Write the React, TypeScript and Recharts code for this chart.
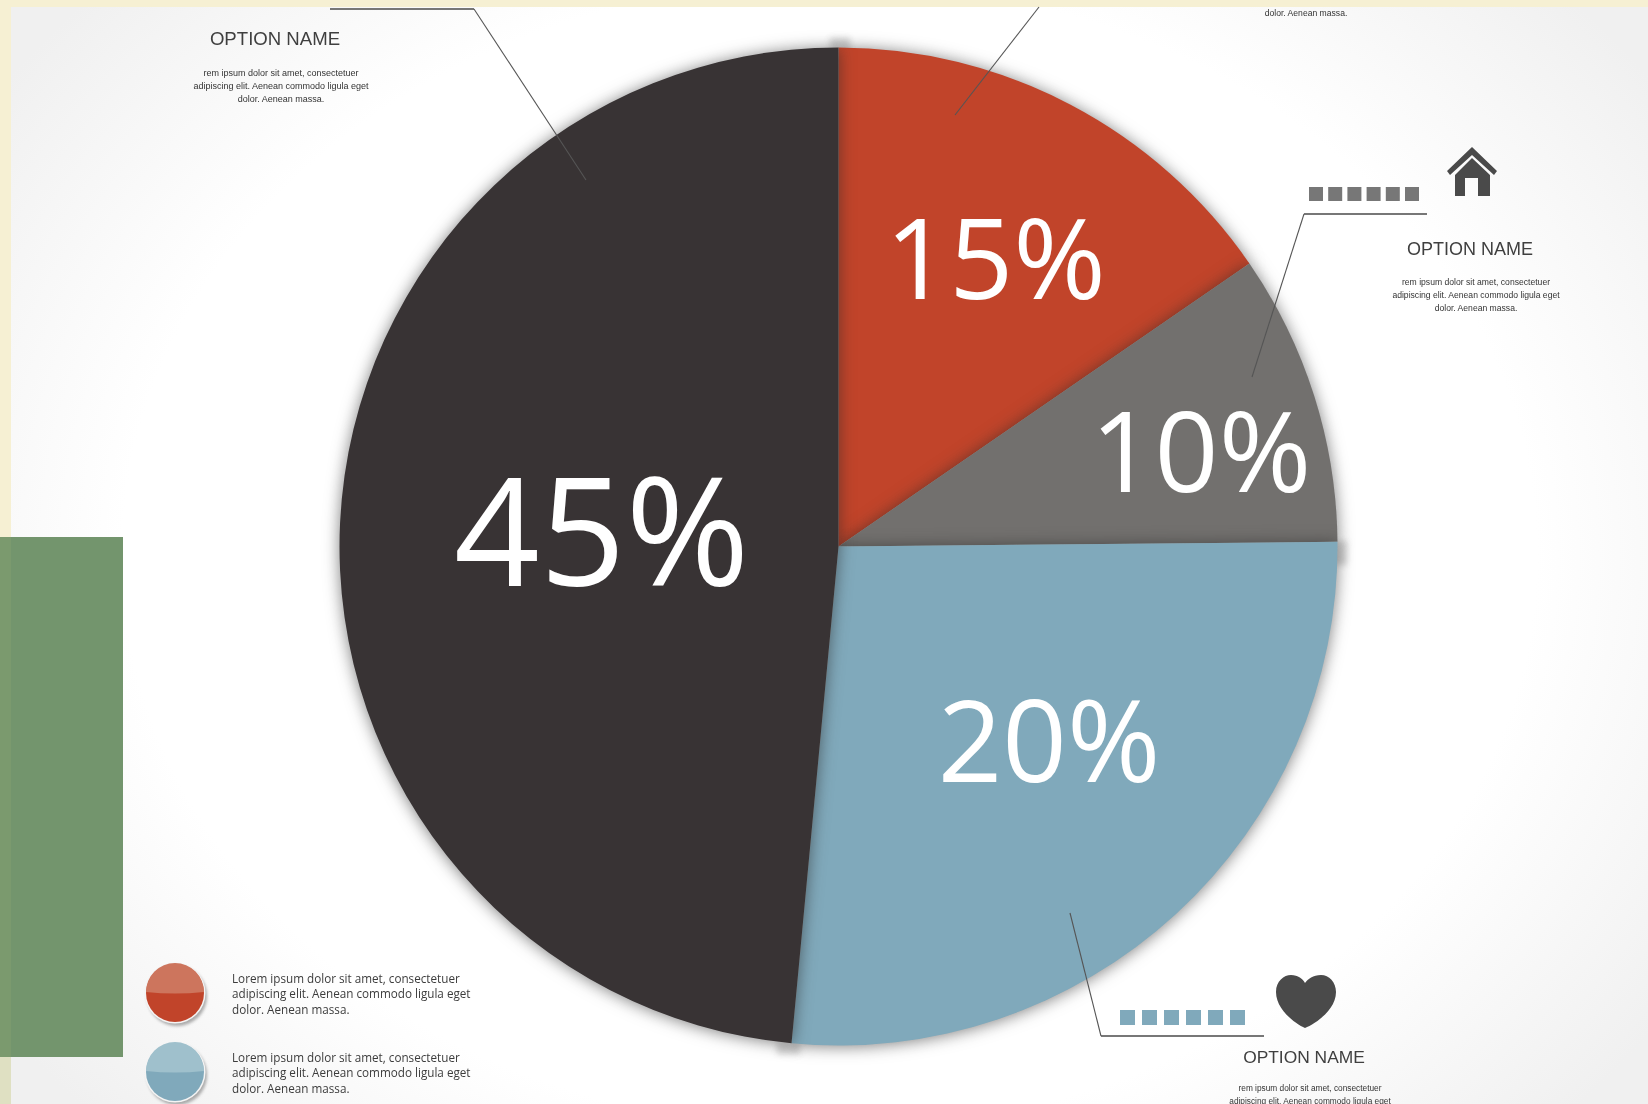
import React from 'react';
import { PieChart, Pie, Cell } from 'recharts';

const sliceNames = ['Red', 'Grey', 'Blue', 'Black'];
const sliceValues = [15.4, 9.45, 26.65, 48.5];
const sliceLabels = ['15%', '10%', '20%', '45%'];
const sliceColors = ['#c1442a', '#72706e', '#80a9bb', '#383334'];

const chartData = sliceNames.map((name, i) => ({ name, value: sliceValues[i], label: sliceLabels[i] }));

const labelSizes = [112, 112, 113, 150];
const labelRadius = [329, 378, 289, 240];
const labelNudgeX = [4, 2, 15, 3];
const labelNudgeY = [0, 16, -21, -7];

const RAD = Math.PI / 180;
const LOREM = ['Lorem ipsum dolor sit amet, consectetuer', 'adipiscing elit. Aenean commodo ligula eget', 'dolor. Aenean massa.'];
const SMALL = ['rem ipsum dolor sit amet, consectetuer', 'adipiscing elit. Aenean commodo ligula eget', 'dolor. Aenean massa.'];

function renderLabel(props: any) {
  const { cx, cy, midAngle, index, payload } = props;
  const r = labelRadius[index];
  const x = cx + r * Math.cos(midAngle * RAD) + labelNudgeX[index];
  const y = cy - r * Math.sin(midAngle * RAD) + labelNudgeY[index];
  return (
    <text x={x} y={y} fill="#ffffff" textAnchor="middle" dominantBaseline="central"
      style={{ fontFamily: '"Open Sans", sans-serif', fontWeight: 400, fontSize: labelSizes[index] }}>
      {payload.label}
    </text>
  );
}

function Caption({ x, y, lines, size }: { x: number; y: number; lines: string[]; size: number }) {
  return (
    <g fill="#333" textAnchor="middle" fontFamily='"Liberation Sans", sans-serif'>
      {lines.map((l, i) => (
        <text key={i} x={x} y={y + i * 13} fontSize={size}>{l}</text>
      ))}
    </g>
  );
}

function Squares({ x, y, color, size, pitch }: { x: number; y: number; color: string; size: number; pitch: number }) {
  return (
    <g fill={color}>
      {[0, 1, 2, 3, 4, 5].map(i => <rect key={i} x={x + i * pitch} y={y} width={size} height={size} />)}
    </g>
  );
}

function Badge({ y, top, bottom }: { y: number; top: string; bottom: string }) {
  const cx = 175, r = 29;
  return (
    <g>
      <circle cx={cx + 2} cy={y + 3} r={r + 1} fill="#777" opacity={0.6} style={{ filter: 'blur(1.5px)' }} />
      <circle cx={cx} cy={y} r={r + 1.5} fill="#f4f4f4" />
      <circle cx={cx} cy={y} r={r} fill={bottom} />
      <path d={`M ${cx - r} ${y - 1} A ${r} ${r} 0 0 1 ${cx + r} ${y - 1} Q ${cx} ${y + 2} ${cx - r} ${y - 1} Z`} fill={top} />
    </g>
  );
}

function Lorem({ x, y }: { x: number; y: number }) {
  return (
    <g fill="#3c3c3c" fontFamily='"Open Sans", sans-serif' fontSize={11.7}>
      {LOREM.map((l, i) => <text key={i} x={x} y={y + i * 15.4}>{l}</text>)}
    </g>
  );
}

export default function App() {
  return (
    <div style={{ position: 'absolute', left: 0, top: 0, width: 1648, height: 1104, overflow: 'hidden', background: '#f6f0d3' }}>
      <div style={{
        position: 'absolute', left: 11, top: 7, width: 1637, height: 1097,
        background: 'radial-gradient(ellipse 1010px 820px at 50% 50%, #ffffff 70%, #f0f0f0 100%)',
      }} />
      <svg width={1648} height={1104} style={{ position: 'absolute', left: 0, top: 0, filter: 'blur(0.5px)' }}>
        <rect x={0} y={1057} width={11} height={47} fill="#dfe0c2" />
        <rect x={0} y={537} width={123} height={520} fill="#73956d" />
        <rect x={0} y={537} width={11} height={520} fill="#7b9a6e" />
        <g fill="#3f3f3f" fontFamily='"Liberation Sans", sans-serif' textAnchor="middle">
          <text x={275} y={45} fontSize={18.6}>OPTION NAME</text>
          <text x={1470} y={255} fontSize={18}>OPTION NAME</text>
          <text x={1304} y={1063} fontSize={17.4}>OPTION NAME</text>
        </g>
        <Caption x={281} y={76} lines={SMALL} size={9} />
        <Caption x={1476} y={285} lines={SMALL} size={8.6} />
        <Caption x={1310} y={1091} lines={SMALL} size={8.3} />
        <text x={1306} y={16} fontSize={8.6} fill="#333" textAnchor="middle" fontFamily='"Liberation Sans", sans-serif'>dolor. Aenean massa.</text>
        <Squares x={1309} y={187} color="#777" size={14} pitch={19.2} />
        <Squares x={1120} y={1010} color="#80a9bb" size={15} pitch={22} />
        <path d="M 1472 147 L 1497 171 L 1494 175 L 1472 155 L 1450 175 L 1447 171 Z M 1455 175 L 1472 158 L 1490 175 V 196 H 1478 V 178 H 1465 V 196 H 1455 Z" fill="#4a4a4a" />
        <path d="M 1305 1028 C 1296 1024 1276 1010 1276 992 C 1276 981 1284 975 1291 975 C 1298 975 1303 979 1305 983 C 1308 979 1313 975 1321 975 C 1329 975 1336 982 1336 992 C 1336 1010 1315 1024 1305 1028 Z" fill="#4a4a4a" />
        <Badge y={993} top="#cd755d" bottom="#c1442a" />
        <Badge y={1072} top="#9fc0cc" bottom="#80a9bb" />
        <Lorem x={232} y={983} />
        <Lorem x={232} y={1062} />
        <g fill="#666" opacity={0.28} style={{ filter: 'blur(3px)' }}>
          <rect x={830} y={38} width={20} height={12} />
          <rect x={1334} y={541} width={13} height={24} />
          <rect x={777} y={1042} width={23} height={12} />
        </g>
      </svg>
      <div style={{ position: 'absolute', left: 0, top: 0 }}>
        <PieChart width={1648} height={1104} margin={{ top: 0, right: 0, bottom: 0, left: 0 }}>
          <Pie
            data={chartData}
            dataKey="value"
            nameKey="name"
            cx={838.5}
            cy={546.5}
            outerRadius={499}
            startAngle={90}
            endAngle={-270}
            stroke="none"
            label={renderLabel}
            labelLine={false}
            isAnimationActive={false}
          >
            {chartData.map((d, i) => (
              <Cell key={d.name} fill={sliceColors[i]} style={{ filter: 'drop-shadow(0px 1px 8px rgba(40,40,40,0.6))' }} />
            ))}
          </Pie>
        </PieChart>
      </div>
      <svg width={1648} height={1104} style={{ position: 'absolute', left: 0, top: 0, pointerEvents: 'none', filter: 'blur(0.4px)' }}>
        <g stroke="#777" fill="none" strokeWidth={1.8}>
          <path d="M 330 9 H 474" />
          <path d="M 1427 214 H 1304" />
          <path d="M 1264 1036 H 1101" />
        </g>
        <g stroke="#555" fill="none" strokeWidth={1.1}>
          <path d="M 474 9 L 586 180" />
          <path d="M 1039 7 L 955 115" />
          <path d="M 1304 214 L 1252 377" />
          <path d="M 1101 1036 L 1070 913" />
        </g>
      </svg>
    </div>
  );
}
